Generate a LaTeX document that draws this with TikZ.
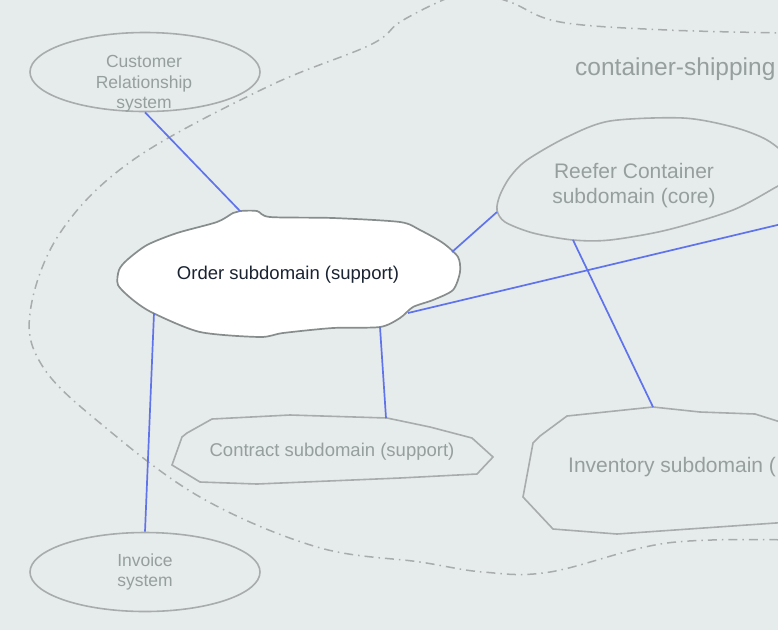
\documentclass[tikz,border=0pt]{standalone}
\usepackage{fontspec}
\setmainfont{Liberation Sans}
\usetikzlibrary{shapes.geometric}
\definecolor{bgcol}{RGB}{230,235,235}
\definecolor{edgegray}{RGB}{168,172,172}
\definecolor{cloudgray}{RGB}{135,140,140}
\definecolor{txtgray}{RGB}{150,158,158}
\definecolor{darktxt}{RGB}{25,35,50}
\definecolor{linkblue}{RGB}{95,115,235}
\begin{document}
\begin{tikzpicture}[x=1pt,y=-1pt,
		sys/.style = {draw = edgegray, line width = 1.6pt, ellipse, minimum width = 230pt, minimum height = 79pt, inner sep = 0pt},
		lbl/.style = {text = txtgray, align = center, inner sep = 0pt, font = \fontsize{17.5}{20.5}\selectfont},
		biglbl/.style = {lbl, font = \fontsize{21}{25}\selectfont},
		blob/.style = {draw = edgegray, line width = 1.6pt},
		link/.style = {draw = linkblue, line width = 1.7pt},
		boundary/.style = {draw = edgegray, line width = 1.5pt, dash pattern = on 9pt off 5pt on 1.5pt off 5pt}]
		\useasboundingbox (0,0) rectangle (778,630);
		\fill[bgcol] (0,0) rectangle (778,630);
		\clip (0,0) rectangle (778,630);
		\draw[boundary] plot[smooth, tension = 0.6] coordinates {(790,33) (667,30) (560,22) (510,2) (470,-8) (443,0) (400,22) (370,45) (267,87) (133,160) (60,233) (30,313) (43,367) (100,423) (200,497) (317,547) (420,562) (483,572) (550,572) (667,543) (790,540)};
		\node[lbl, anchor = west, font = \fontsize{24.5}{28}\selectfont] at (575,69) (domain) {container-shipping};
		\node[sys] at (145,72) (crm) {};
		\node[lbl] at (144,84) (crmtext) {Customer\\Relationship\\system};
		\node[sys] at (145,572) (invoice) {};
		\node[lbl] at (145,572) (invoicetext) {Invoice\\system};
		\draw[blob] plot[smooth cycle, tension = 0.5] coordinates {(497,210) (500,195) (510,177) (527,160) (567,137) (610,121) (683,118) (733,127) (767,140) (790,160) (790,180) (778,186) (733,210) (667,230) (610,240) (573,240) (533,233) (505,222)};
		\node[biglbl] at (634,186) (reefer) {Reefer Container\\subdomain (core)};
		\draw[blob] (172,465) -- (182,437) -- (187,433) -- (212,419) -- (290,415) -- (387,418) -- (430,427) -- (472,438) -- (493,457) -- (477,474) -- (400,478) -- (257,484) -- (200,482) -- cycle;
		\node[lbl, font = \fontsize{18.5}{21}\selectfont] at (332,452) (contract) {Contract subdomain (support)};
		\draw[blob] (523,497) -- (533,443) -- (540,436) -- (567,416) -- (653,407) -- (700,412) -- (755,414) -- (790,425) -- (790,522) -- (617,534) -- (553,529) -- cycle;
		\node[biglbl, anchor = west] at (568,467) (inventory) {Inventory subdomain (};
		\draw[draw = cloudgray, fill = white, line width = 1.7pt] plot[smooth cycle, tension = 0.45] coordinates {(240,211) (257,211) (270,217) (333,218) (400,222) (420,230) (443,243) (458,257) (460,272) (453,290) (433,300) (413,307) (400,318) (380,327) (333,328) (283,333) (260,337) (200,332) (153,313) (133,300) (118,285) (119,270) (127,260) (147,245) (177,233) (217,222) (233,213)};
		\node[text = darktxt, inner sep = 0pt, font = \fontsize{18.5}{22}\selectfont] at (288,275) (order) {Order subdomain (support)};
		\coordinate (order-n) at (240,211);
		\coordinate (order-ne) at (452,252);
		\coordinate (order-e) at (408,313);
		\coordinate (order-s) at (380,327);
		\coordinate (order-sw) at (154,313);
		\coordinate (reefer-w) at (497,212);
		\coordinate (reefer-s) at (573,240);
		\coordinate (contract-n) at (386,418);
		\coordinate (inventory-n) at (653,407);
		\coordinate (far-e) at (790,222);
		\draw[link] (crm.south) to (order-n);
		\draw[link] (order-ne) to (reefer-w);
		\draw[link] (order-e) to (far-e);
		\draw[link] (order-s) to (contract-n);
		\draw[link] (order-sw) to (invoice.north);
		\draw[link] (reefer-s) to (inventory-n);
	\end{tikzpicture}
\end{document}
